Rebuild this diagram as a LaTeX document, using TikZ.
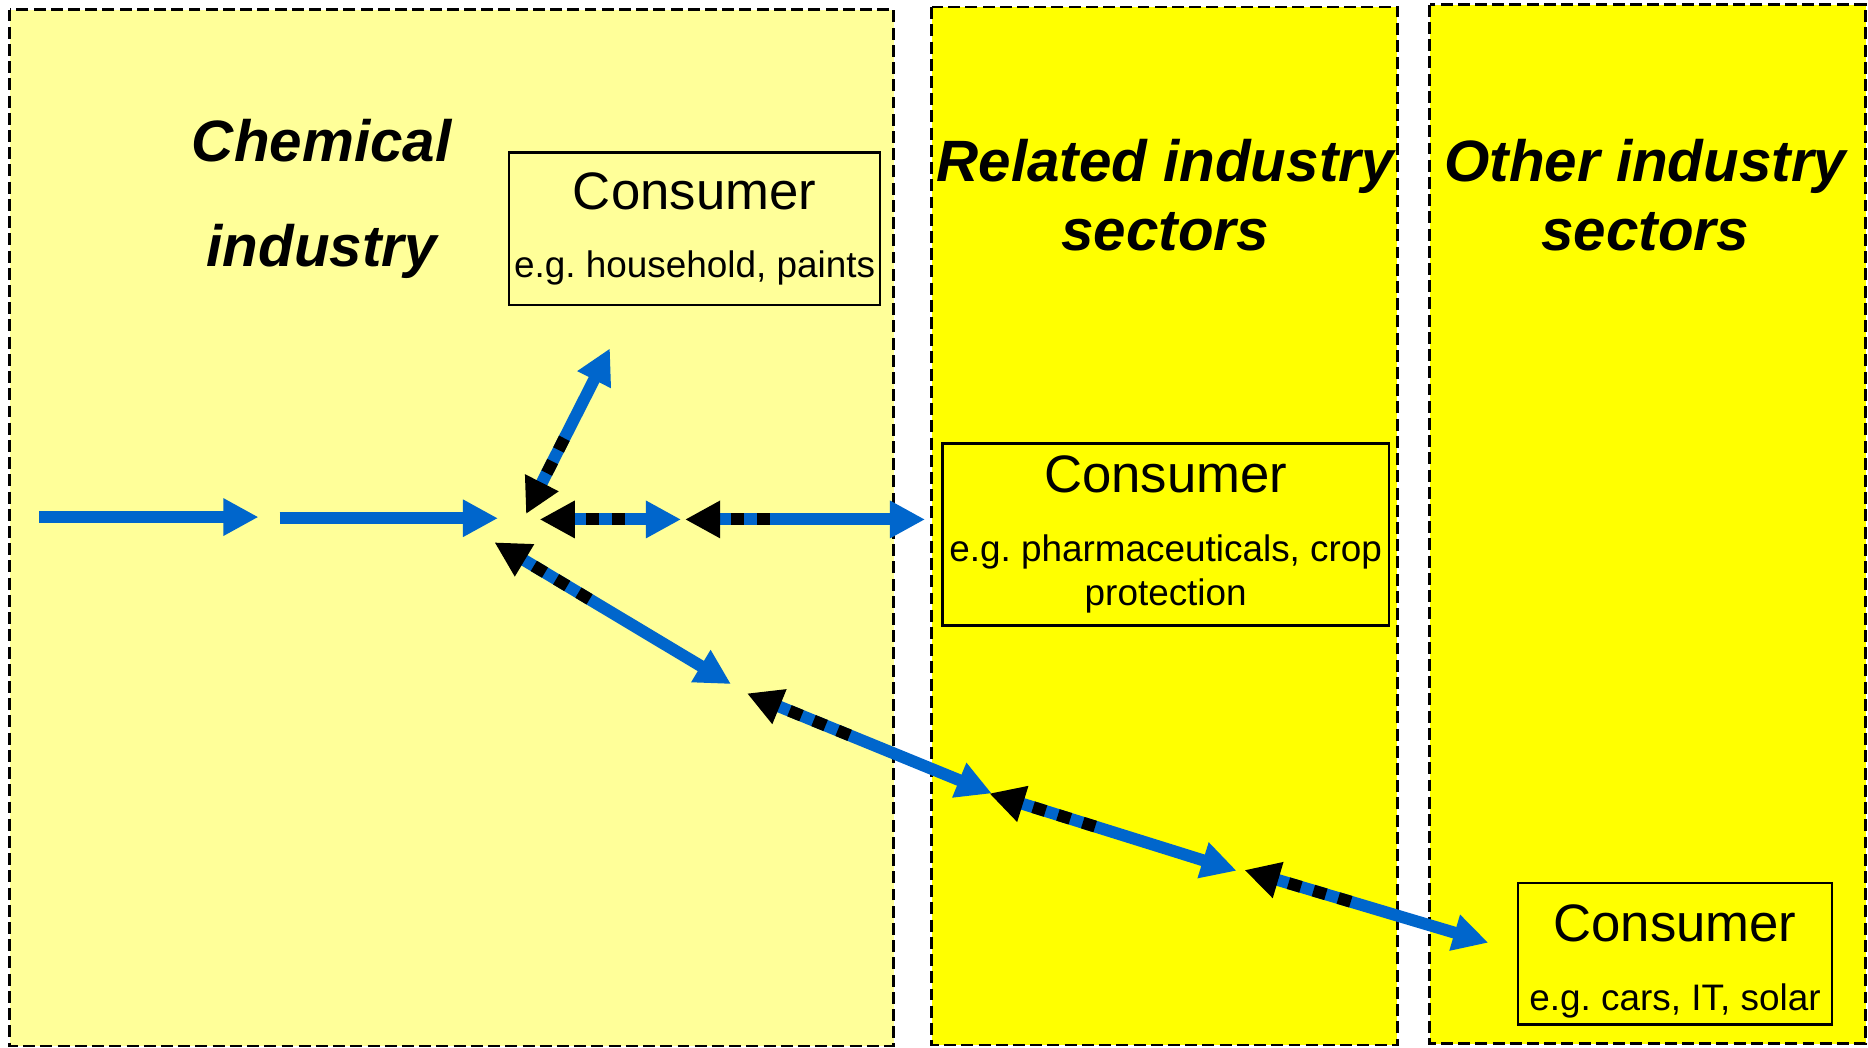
\documentclass[tikz,border=0pt]{standalone}
\usepackage{fontspec}
\setmainfont{Liberation Sans}
\usetikzlibrary{arrows.meta,positioning,calc}
\definecolor{paleyellow}{HTML}{FFFF99}
\definecolor{sectoryellow}{HTML}{FFFF00}
\definecolor{flowblue}{HTML}{0066CC}

\begin{document}
\begin{tikzpicture}
[x=0.011913cm,y=-0.011913cm,
panel/.style={draw=black,line width=.75pt,dash pattern=on 3.4pt off 1.5pt},
title/.style={align=center,font=\fontsize{16.6}{19.7}\selectfont\bfseries\itshape},
consumer/.style={draw=black,line width=.7pt,align=center,inner sep=0pt,font=\fontsize{10.5}{12.5}\selectfont},
flow/.style={draw=flowblue,line width=3.4pt,shorten <=5pt,-{Triangle[length=10pt,width=10pt]}},
back/.style={draw=black,line width=3.4pt,dash pattern=on 3.7pt off 3.7pt,dash phase=3.7pt,{Triangle[length=10pt,width=10pt]}-}]
\useasboundingbox (0,0) rectangle (1568,879);

% the three sectors
\draw[panel,fill=paleyellow] (8,8) rectangle (750,878);
\draw[panel,fill=sectoryellow] (782,6) rectangle (1173,877);
\draw[panel,fill=sectoryellow] (1200,4) rectangle (1566,876);

\node[title,font=\fontsize{16.6}{29.8}\selectfont\bfseries\itshape] (chem) at (270,167) {Chemical\\industry};
\node[title] (related) at (978,164) {Related industry\\sectors};
\node[title] (other) at (1381,164) {Other industry\\sectors};

% consumers
\node[consumer,minimum width=105.7pt,minimum height=43.4pt] (household) at (583,192)
 {{\fontsize{15}{15}\selectfont Consumer}\\[7pt]e.g.\ household, paints};
\node[consumer,minimum width=127pt,minimum height=51.8pt] (pharma) at (978.5,448.5)
 {{\fontsize{15}{15}\selectfont Consumer}\\[7pt]e.g.\ pharmaceuticals, crop\\protection};
\node[consumer,minimum width=89.4pt,minimum height=40.3pt] (cars) at (1406,800.5)
 {{\fontsize{15}{15}\selectfont\rule{0pt}{15pt}Consumer}\\[7pt]e.g.\ cars, IT, solar};

% value chain
\coordinate (feed) at (33,434);
\coordinate (step) at (217,434);
\coordinate (basic) at (234.8,435);
\coordinate (hub) at (418,435);
\coordinate (hubup) at (441.5,431.5);
\coordinate (tohh) at (512,292.4);
\coordinate (hubright) at (453,436);
\coordinate (fine) at (571.7,436);
\coordinate (fineout) at (575,436);
\coordinate (topharma) at (776.5,436);
\coordinate (hubdown) at (415,455.2);
\coordinate (spec) at (613.6,574.2);
\coordinate (specout) at (627,582);
\coordinate (formul) at (832.5,666);
\coordinate (formulout) at (830.4,666);
\coordinate (part) at (1038,730.9);
\coordinate (partout) at (1044.6,730.3);
\coordinate (tocars) at (1249.3,791.3);

\draw[flow,shorten <=0pt] (feed) -- (step);
\draw[flow,shorten <=0pt] (basic) -- (hub);
\foreach \a/\b/\l in {hubup/tohh/24.7pt,hubright/fine/24.7pt,fineout/topharma/24.7pt,
 hubdown/spec/32.7pt,specout/formul/32.7pt,formulout/part/32.7pt,partout/tocars/32.7pt}
{\draw[flow] (\a) -- (\b);
 \draw[back] (\a) -- ($(\a)!\l!(\b)$);}
\end{tikzpicture}
\end{document}
